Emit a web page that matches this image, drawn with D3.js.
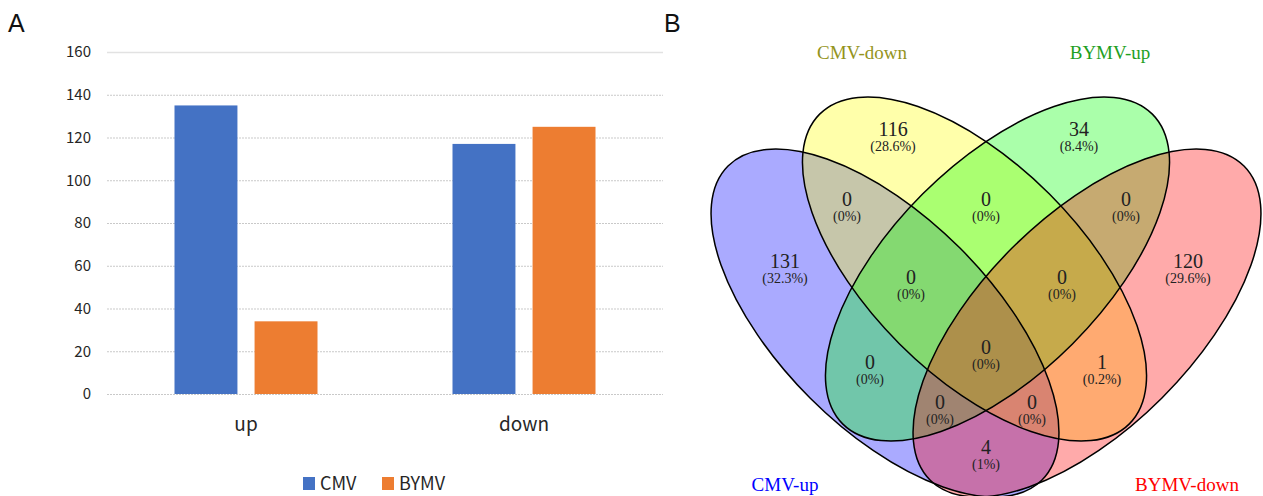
<!DOCTYPE html>
<html>
<head>
<meta charset="utf-8">
<script src="https://cdn.jsdelivr.net/npm/d3@7"></script>
<style>
  html, body { margin: 0; padding: 0; background: #ffffff; }
  svg { display: block; }
</style>
</head>
<body>
<svg id="fig" width="1263" height="496"></svg>
<script>
// ---- Panel A data: differentially expressed gene counts ----
const categories = ["up", "down"];
const seriesNames = ["CMV", "BYMV"];
const cmvCounts = [135, 117];
const bymvCounts = [34, 125];
const yTicks = [0, 20, 40, 60, 80, 100, 120, 140, 160];
const seriesColors = ["#4472C4", "#ED7D31"];

// ---- Panel B data: four-set Venn diagram ----
const vennSets = ["CMV-up", "CMV-down", "BYMV-up", "BYMV-down"];
// region keys: membership flags in the order of vennSets
const vennRegions = ["1000", "0100", "0010", "0001", "1100", "0110", "0011",
                     "1110", "1111", "0111", "1010", "0101", "1011", "1101", "1001"];
const vennCounts  = [131, 116, 34, 120, 0, 0, 0, 0, 0, 0, 0, 1, 0, 0, 4];
const vennFill = ["#0000ff", "#ffff00", "#00ff00", "#ff0000"];
const vennLabelColors = ["#0000ff", "#94941c", "#1f9f1f", "#ff0000"];

const svg = d3.select("#fig");
const sansFont = "'Noto Sans CJK KR', 'Noto Sans', sans-serif";
const serifFont = "'Liberation Serif', 'DejaVu Serif', serif";

// ================= Panel A : grouped bar chart =================
const plot = { left: 107, right: 663, top: 52, bottom: 394 };
const y = d3.scaleLinear().domain([0, 160]).range([plot.bottom, plot.top]);
const x0 = d3.scaleBand().domain(categories).range([plot.left, plot.right]);
const groupPad = 67.5;
const x1 = d3.scaleBand().domain(seriesNames)
  .range([groupPad, x0.bandwidth() - groupPad]).paddingInner(0.214);

svg.append("text").attr("x", 8).attr("y", 32)
  .attr("font-family", "'Liberation Sans', Arial, sans-serif").attr("font-size", 25)
  .attr("fill", "#111").text("A");

// gridlines
svg.append("g").selectAll("line").data(yTicks).join("line")
  .attr("x1", plot.left).attr("x2", plot.right)
  .attr("y1", d => y(d) + 0.5).attr("y2", d => y(d) + 0.5)
  .attr("stroke", d => d === 160 ? "#e2e2e2" : "#c9c9c9")
  .attr("stroke-width", d => d === 160 ? 1.5 : 1)
  .attr("stroke-dasharray", d => d === 160 ? null : "2,1");

// y tick labels
const yAxis = svg.append("g").attr("transform", `translate(${plot.left},0)`)
  .call(d3.axisLeft(y).tickValues(yTicks).tickSize(0).tickPadding(16));
yAxis.select(".domain").remove();
yAxis.selectAll("text").attr("font-family", sansFont).attr("font-size", 15)
  .attr("fill", "#262626");

// bars
const bars = svg.append("g");
categories.forEach((cat, i) => {
  const vals = [cmvCounts[i], bymvCounts[i]];
  bars.append("g").attr("transform", `translate(${x0(cat)},0)`)
    .selectAll("rect").data(vals).join("rect")
    .attr("x", (d, j) => x1(seriesNames[j]))
    .attr("width", x1.bandwidth())
    .attr("y", d => y(d))
    .attr("height", d => y(0) - y(d))
    .attr("fill", (d, j) => seriesColors[j]);
});

// category labels
const xAxis = svg.append("g").attr("transform", `translate(0,${plot.bottom})`)
  .call(d3.axisBottom(x0).tickSize(0).tickPadding(24));
xAxis.select(".domain").remove();
xAxis.selectAll("text").attr("font-family", sansFont).attr("font-size", 19)
  .attr("fill", "#262626");

// legend
const legendX = [303, 382];
const legend = svg.append("g");
seriesNames.forEach((name, i) => {
  legend.append("rect").attr("x", legendX[i]).attr("y", 477)
    .attr("width", 12).attr("height", 13).attr("fill", seriesColors[i]);
  legend.append("text").attr("x", legendX[i] + 17).attr("y", 490)
    .attr("font-family", sansFont).attr("font-size", 18).attr("fill", "#262626")
    .text(name);
});

// ================= Panel B : four-set Venn diagram =================
svg.append("text").attr("x", 664).attr("y", 32)
  .attr("font-family", "'Liberation Sans', Arial, sans-serif").attr("font-size", 25)
  .attr("fill", "#111").text("B");

// ellipse geometry for each set, in vennSets order
const ellipses = [
  { cx: 885,   cy: 323, rx: 222, ry: 106, rot: 45 },
  { cx: 974.5, cy: 269, rx: 219, ry: 106, rot: 45 },
  { cx: 997.5, cy: 269, rx: 219, ry: 106, rot: -45 },
  { cx: 1087,  cy: 323, rx: 222, ry: 106, rot: -45 }
];
const venn = svg.append("g");
venn.selectAll("ellipse.fill").data(ellipses).join("ellipse")
  .attr("class", "fill")
  .attr("transform", d => `translate(${d.cx},${d.cy}) rotate(${d.rot})`)
  .attr("rx", d => d.rx).attr("ry", d => d.ry)
  .attr("fill", (d, i) => vennFill[i]).attr("fill-opacity", 0.333)
  .attr("stroke", "none");
venn.selectAll("ellipse.edge").data(ellipses).join("ellipse")
  .attr("class", "edge")
  .attr("transform", d => `translate(${d.cx},${d.cy}) rotate(${d.rot})`)
  .attr("rx", d => d.rx).attr("ry", d => d.ry)
  .attr("fill", "none").attr("stroke", "#000").attr("stroke-width", 1.5);

// label anchor for each region
const regionAnchor = {
  "1000": [785, 263], "0100": [893, 131], "0010": [1079, 131], "0001": [1188, 263],
  "1100": [847, 201], "0110": [986, 201], "0011": [1126, 201],
  "1110": [911, 279], "1111": [986, 349], "0111": [1062, 279],
  "1010": [870, 364], "0101": [1102, 364],
  "1011": [940, 404], "1101": [1032, 404], "1001": [986, 449]
};
const total = d3.sum(vennCounts);
const pct = v => `(${Math.round(v * 1000 / total) / 10}%)`;
const regionLabels = venn.append("g").selectAll("g")
  .data(vennRegions.map((k, i) => ({ key: k, count: vennCounts[i] })))
  .join("g")
  .attr("transform", d => `translate(${regionAnchor[d.key][0]},${regionAnchor[d.key][1]})`);
regionLabels.append("text").attr("text-anchor", "middle").attr("y", 5)
  .attr("font-family", serifFont).attr("font-size", 20).attr("fill", "#222")
  .text(d => d.count);
regionLabels.append("text").attr("text-anchor", "middle").attr("y", 19.5)
  .attr("font-family", serifFont).attr("font-size", 14).attr("fill", "#222")
  .text(d => pct(d.count));

// set names
const setLabelPos = [[785, 491], [862, 59], [1110, 59], [1187, 491]];
venn.append("g").selectAll("text").data(vennSets).join("text")
  .attr("x", (d, i) => setLabelPos[i][0]).attr("y", (d, i) => setLabelPos[i][1])
  .attr("text-anchor", "middle")
  .attr("font-family", serifFont).attr("font-size", 19)
  .attr("fill", (d, i) => vennLabelColors[i])
  .text(d => d);
</script>
</body>
</html>
